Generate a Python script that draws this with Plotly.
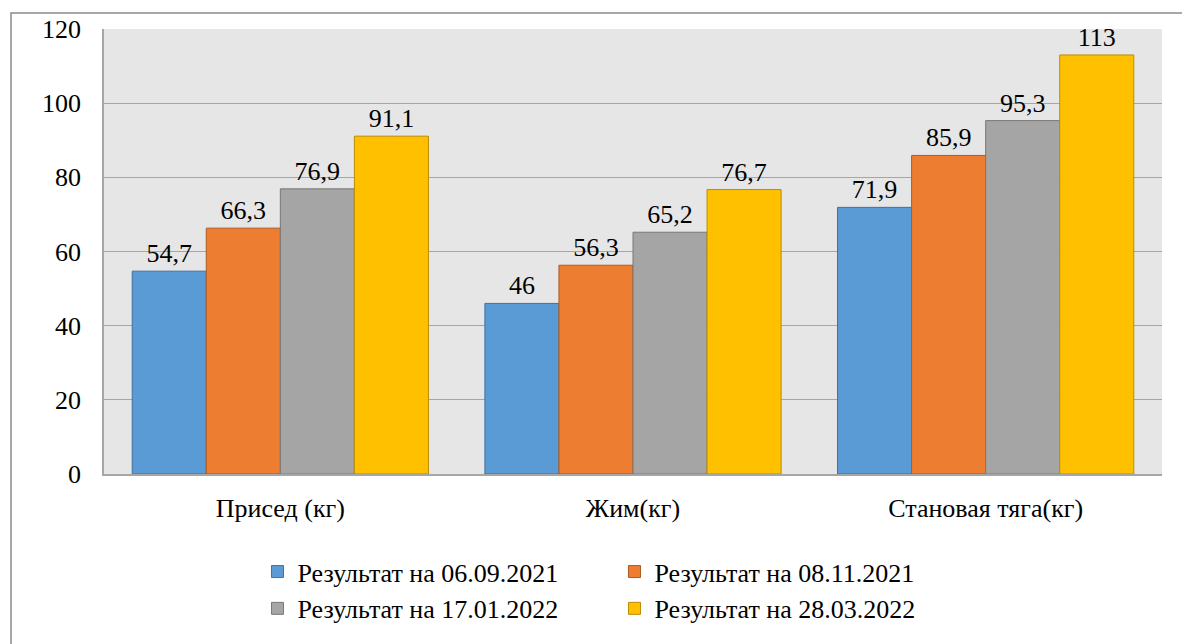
import plotly.graph_objects as go

categories = ["Присед (кг)", "Жим(кг)", "Становая тяга(кг)"]
series_names = [
    "Результат на 06.09.2021",
    "Результат на 08.11.2021",
    "Результат на 17.01.2022",
    "Результат на 28.03.2022",
]
res_2021_09_06 = [54.7, 46, 71.9]
res_2021_11_08 = [66.3, 56.3, 85.9]
res_2022_01_17 = [76.9, 65.2, 95.3]
res_2022_03_28 = [91.1, 76.7, 113]
y_ticks = [0, 20, 40, 60, 80, 100, 120]

series_values = [res_2021_09_06, res_2021_11_08, res_2022_01_17, res_2022_03_28]
fills = ["#5B9BD5", "#ED7D31", "#A5A5A5", "#FFC000"]
edges = ["#41719C", "#AE5A21", "#787878", "#BC8C00"]

FONT = "Liberation Serif"
FS = 26


def ru_number(v):
    # decimal comma, as written in Russian
    return f"{v:g}".replace(".", ",")


fig = go.Figure()
for name, vals, fill, edge in zip(series_names, series_values, fills, edges):
    fig.add_trace(go.Bar(
        x=categories, y=vals, name=name,
        marker=dict(color=fill, line=dict(color=edge, width=1)),
        text=[ru_number(v) for v in vals], texttemplate="%{text}",
        textposition="outside", cliponaxis=False,
        textfont=dict(family=FONT, size=FS, color="black"),
    ))

fig.update_layout(
    width=1182, height=644,
    margin=dict(l=104, r=20, t=29, b=167),
    paper_bgcolor="white", plot_bgcolor="#E6E6E6",
    barmode="group", bargap=0.16, bargroupgap=0,
    showlegend=True,
    # fixed entry width makes the four entries wrap into two rows of two
    legend=dict(
        orientation="h", xanchor="center", x=0.4825, yanchor="middle", y=-0.261,
        entrywidth=312, entrywidthmode="pixels",
        font=dict(family=FONT, size=FS, color="black"),
        bgcolor="rgba(0,0,0,0)", itemwidth=30,
    ),
    xaxis=dict(
        showline=True, linecolor="#A6A6A6", linewidth=1.5,
        showgrid=False, ticks="", ticklabelstandoff=10,
        tickfont=dict(family=FONT, size=FS, color="black"),
    ),
    yaxis=dict(
        range=[0, 120], tickvals=y_ticks, ticktext=[str(v) for v in y_ticks],
        showline=True, linecolor="#A6A6A6", linewidth=1.5,
        showgrid=True, gridcolor="#A6A6A6", gridwidth=1,
        zeroline=False, ticks="", ticklabelstandoff=16,
        tickfont=dict(family=FONT, size=FS, color="black"),
    ),
    shapes=[dict(
        type="rect", xref="paper", yref="paper",
        x0=(11 - 104) / 1058, x1=(1190 - 104) / 1058,
        y0=(477 - 660) / 448, y1=1 + (29 - 13) / 448,
        line=dict(color="#8C8C8C", width=1.5), fillcolor="rgba(0,0,0,0)",
        layer="below",
    )],
)

fig.write_html("out.html")
